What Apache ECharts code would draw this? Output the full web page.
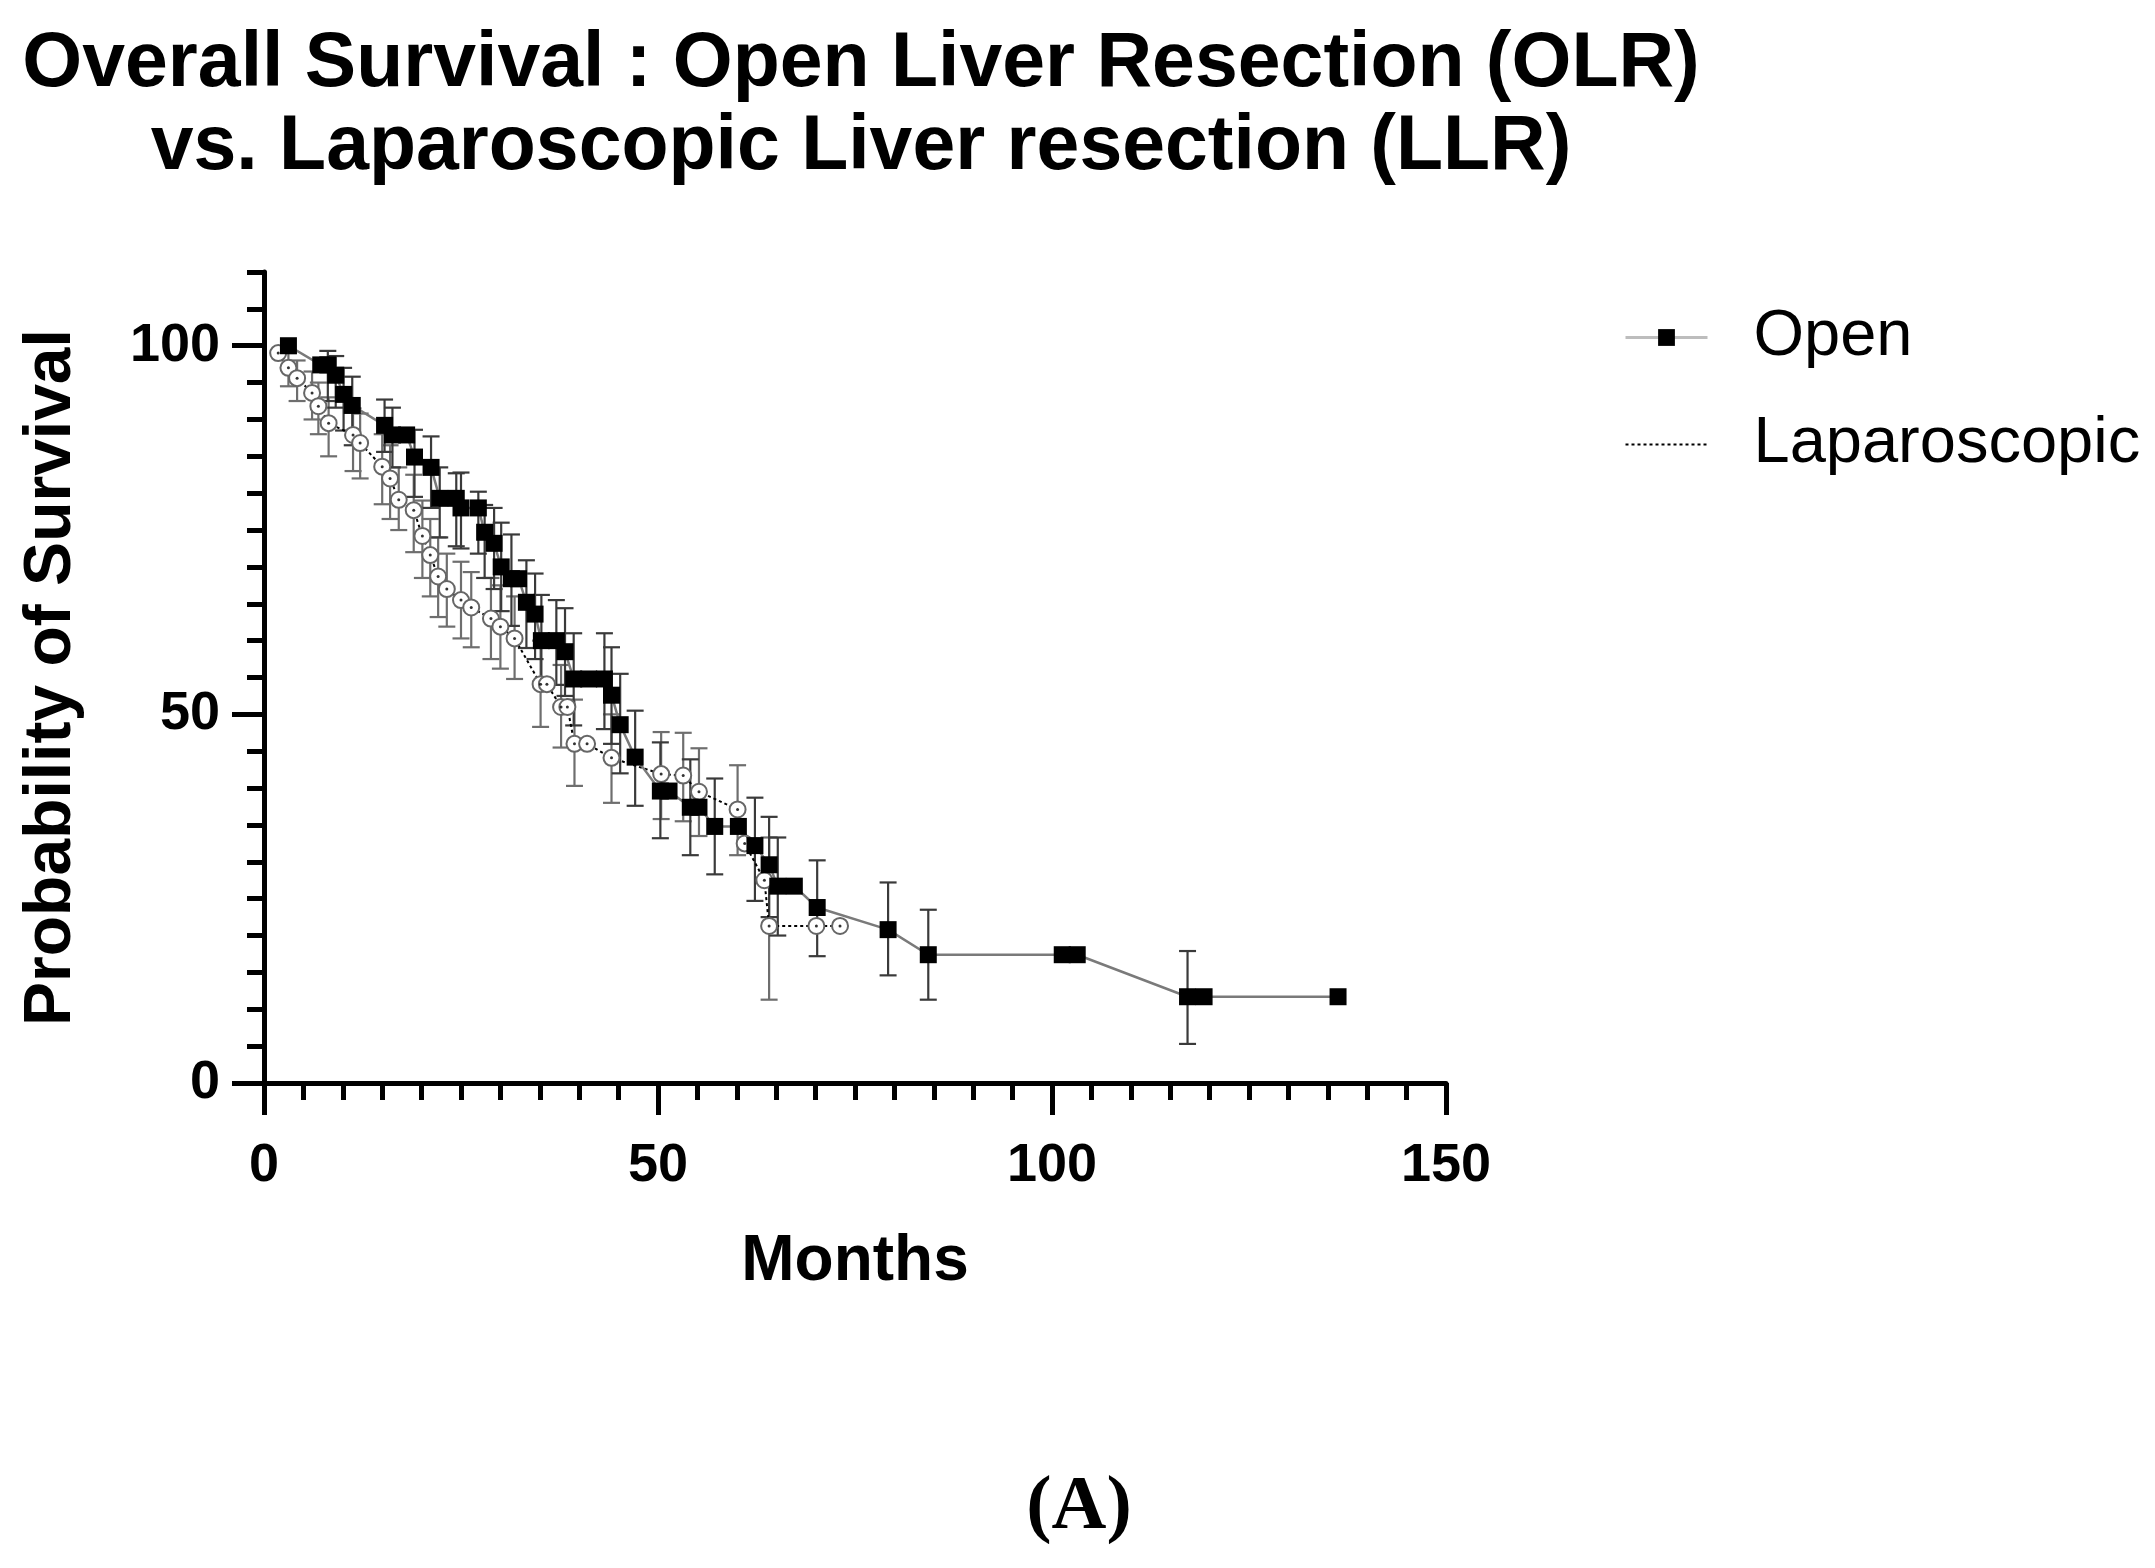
<!DOCTYPE html>
<html><head><meta charset="utf-8">
<script src="https://cdn.jsdelivr.net/npm/echarts@6/dist/echarts.min.js"></script>
<style>html,body{margin:0;padding:0;background:#fff}#c{width:2155px;height:1568px}</style>
</head><body><div id="c"></div>
<script>
// ---- Data ----
const openMonths = [3.1, 7.2, 8.1, 9.1, 10.1, 11.2, 15.3, 16.3, 18.1, 19.1, 21.2, 22.3, 24.4, 25.0, 27.2, 28.0, 29.2, 30.1, 31.4, 32.3, 33.3, 34.4, 35.2, 37.1, 38.2, 39.3, 41.2, 43.2, 44.1, 45.2, 47.1, 50.3, 51.4, 54.1, 55.2, 57.2, 60.2, 62.3, 64.1, 65.2, 67.3, 70.2, 79.2, 84.3, 101.3, 103.2, 117.2, 119.3, 136.3];
const openSurv   = [100, 97.4, 97.4, 96.0, 93.4, 91.9, 89.2, 87.9, 87.9, 84.9, 83.5, 79.3, 79.3, 78.0, 78.0, 74.7, 73.2, 70.0, 68.4, 68.4, 65.2, 63.6, 60.0, 60.0, 58.5, 54.8, 54.8, 54.8, 52.6, 48.6, 44.2, 39.6, 39.6, 37.4, 37.4, 34.8, 34.8, 32.2, 29.6, 26.7, 26.7, 23.8, 20.8, 17.4, 17.4, 17.4, 11.7, 11.7, 11.7];
const openLo     = [null, null, 92.5, 91.6, 88.5, 86.5, 85.6, 83.5, null, 79.5, 78.0, 74.0, 72.8, 72.5, 71.8, 68.5, 67.0, 64.0, 62.0, null, 59.0, 57.5, 54.5, 54.0, 52.5, 48.5, null, 48.0, 46.0, 42.0, 37.6, 33.2, null, 30.9, null, 28.3, null, 24.7, 22.5, 20.0, null, 17.2, 14.6, 11.3, null, null, 5.3, null, null];
const openHi     = [null, null, 99.3, 98.6, 97.0, 95.8, 92.7, 91.6, null, 88.6, 87.7, 83.5, 82.7, 82.8, 80.2, 78.4, 78.0, 76.0, 74.4, null, 70.9, 69.1, 66.2, 65.5, 64.4, 61.0, null, 61.0, 59.1, 55.5, 50.5, 46.2, null, 43.9, null, 41.3, null, 38.7, 36.1, 33.3, null, 30.2, 27.2, 23.5, null, null, 17.9, null, null];

const lapMonths = [1.8, 3.1, 4.2, 6.1, 6.9, 8.2, 11.3, 12.2, 15.0, 16.0, 17.1, 19.0, 20.1, 21.1, 22.1, 23.2, 25.0, 26.3, 28.8, 30.0, 31.8, 35.1, 35.9, 37.7, 38.5, 39.4, 41.0, 44.1, 50.4, 53.2, 55.2, 60.1, 61.0, 63.5, 64.1, 70.1, 73.1];
const lapSurv   = [99.0, 97.0, 95.6, 93.6, 91.8, 89.5, 87.9, 86.8, 83.6, 82.0, 79.1, 77.7, 74.2, 71.6, 68.7, 67.0, 65.5, 64.5, 63.0, 61.9, 60.3, 54.1, 54.1, 51.0, 51.0, 46.0, 46.0, 44.1, 41.9, 41.7, 39.5, 37.1, 32.5, 27.5, 21.3, 21.3, 21.3];
const lapLo     = [null, 94.5, 92.5, 90.0, 88.0, 85.0, 83.0, 82.0, 78.5, 76.5, 75.0, 72.0, 68.5, 66.0, 63.2, 61.9, 60.3, 59.1, 57.5, 56.2, 54.8, 48.3, null, 45.5, null, 40.3, null, 38.0, 35.8, 35.5, 33.5, 30.9, null, null, 11.3, null, null];
const lapHi     = [null, 99.0, 98.0, 96.5, 95.0, 93.0, 91.5, 90.8, 88.0, 86.5, 83.5, 82.5, 79.0, 76.5, 74.0, 71.8, 70.7, 69.3, 68.5, 67.5, 66.0, 60.0, null, 56.7, null, 52.0, null, 50.0, 47.6, 47.5, 45.4, 43.1, null, null, 33.3, null, null];

const xTickLabels = [0, 50, 100, 150];
const yTickLabels = [0, 50, 100];
const seriesNames = ['Open', 'Laparoscopic'];
const titleText = 'Overall Survival : Open Liver Resection (OLR)\nvs. Laparoscopic Liver resection (LLR)';
const xName = 'Months';
const yName = 'Probability of Survival';
const panelLabel = '(A)';

// ---- Build ----
const pts = (xs, ys) => xs.map((x, i) => [x, ys[i]]);
const bars = (xs, lo, hi) => xs.map((x, i) => [x, lo[i], hi[i]]).filter(d => d[1] != null && d[2] != null);

function errRender(color) {
  return function (params, api) {
    const x = api.value(0), lo = api.value(1), hi = api.value(2);
    const a = api.coord([x, lo]), b = api.coord([x, hi]);
    const w = 8.5;
    const style = { stroke: color, lineWidth: 2.2 };
    return { type: 'group', children: [
      { type: 'line', shape: { x1: a[0], y1: a[1], x2: b[0], y2: b[1] }, style },
      { type: 'line', shape: { x1: a[0] - w, y1: a[1], x2: a[0] + w, y2: a[1] }, style },
      { type: 'line', shape: { x1: b[0] - w, y1: b[1], x2: b[0] + w, y2: b[1] }, style }
    ]};
  };
}

const FONT = '"Liberation Sans", Arial, sans-serif';
const axisCommon = {
  axisLine: { show: true, lineStyle: { color: '#000', width: 5 } },
  splitLine: { show: false }
};

const chart = echarts.init(document.getElementById('c'), null, { renderer: 'canvas' });
chart.setOption({
  backgroundColor: '#fff',
  animation: false,
  title: {
    text: titleText,
    left: 856, top: 18, textAlign: 'center',
    textStyle: { fontFamily: FONT, fontWeight: 'bold', fontSize: 77, lineHeight: 83, color: '#000' }
  },
  legend: {
    orient: 'vertical', left: 1619, top: 300,
    itemWidth: 82, itemHeight: 21, itemGap: 42,
    textStyle: { fontFamily: FONT, fontSize: 65, color: '#000', lineHeight: 65, padding: [0, 0, 0, 41] },
    data: [
      { name: seriesNames[0], lineStyle: { color: '#bdbdbd', width: 3 }, itemStyle: { color: '#000' } },
      { name: seriesNames[1], lineStyle: { color: '#000', width: 2, type: [3, 3] }, itemStyle: { opacity: 0 } }
    ]
  },
  grid: { left: 264, top: 272, width: 1182, height: 811, containLabel: false },
  xAxis: [
    Object.assign({}, axisCommon, {
      type: 'value', min: 0, max: 150, interval: 5,
      axisTick: { show: true, length: 17, lineStyle: { color: '#000', width: 5 } },
      axisLabel: { customValues: xTickLabels, margin: 56, fontFamily: FONT, fontWeight: 'bold', fontSize: 54, color: '#000' },
      name: xName, nameLocation: 'middle', nameGap: 147,
      nameTextStyle: { fontFamily: FONT, fontWeight: 'bold', fontSize: 64, color: '#000' }
    }),
    {
      type: 'value', min: 0, max: 150, position: 'bottom', gridIndex: 0,
      axisLine: { show: false }, splitLine: { show: false }, axisLabel: { show: false },
      axisTick: { show: true, length: 32, customValues: xTickLabels, lineStyle: { color: '#000', width: 5 } }
    }
  ],
  yAxis: [
    Object.assign({}, axisCommon, {
      type: 'value', min: 0, max: 110, interval: 5,
      axisTick: { show: true, length: 17, lineStyle: { color: '#000', width: 5 } },
      axisLabel: { customValues: yTickLabels, margin: 44, fontFamily: FONT, fontWeight: 'bold', fontSize: 54, color: '#000' },
      name: yName, nameLocation: 'middle', nameGap: 179, nameRotate: 90,
      nameTextStyle: { fontFamily: FONT, fontWeight: 'bold', fontSize: 66, color: '#000' }
    }),
    {
      type: 'value', min: 0, max: 110, position: 'left', gridIndex: 0,
      axisLine: { show: false }, splitLine: { show: false }, axisLabel: { show: false },
      axisTick: { show: true, length: 32, customValues: yTickLabels, lineStyle: { color: '#000', width: 5 } }
    }
  ],
  series: [
    {
      type: 'custom', name: 'lapErr', renderItem: errRender('#6e6e6e'),
      data: bars(lapMonths, lapLo, lapHi), encode: { x: 0, y: [1, 2] }, z: 1, silent: true
    },
    {
      type: 'custom', name: 'openErr', renderItem: errRender('#3a3a3a'),
      data: bars(openMonths, openLo, openHi), encode: { x: 0, y: [1, 2] }, z: 1, silent: true
    },
    {
      type: 'line', name: seriesNames[1], data: pts(lapMonths, lapSurv), z: 3,
      symbol: 'circle', symbolSize: 16, showAllSymbol: true,
      lineStyle: { color: '#000', width: 2, type: [3, 3] },
      itemStyle: { color: '#fff', borderColor: '#666', borderWidth: 2 }
    },
    {
      type: 'scatter', name: 'lapDot', data: pts(lapMonths, lapSurv), z: 4,
      symbol: 'circle', symbolSize: 3, itemStyle: { color: '#000' }, silent: true
    },
    {
      type: 'line', name: seriesNames[0], data: pts(openMonths, openSurv), z: 5,
      symbol: 'rect', symbolSize: 17, showAllSymbol: true,
      lineStyle: { color: '#7a7a7a', width: 2.5 },
      itemStyle: { color: '#000' }
    }
  ],
  graphic: [
    {
      type: 'text', x: 1079, y: 1508,
      style: { text: panelLabel, align: 'center', verticalAlign: 'middle', fontFamily: '"Liberation Serif", "Times New Roman", serif', fontWeight: 'bold', fontSize: 76, fill: '#000' }
    }
  ]
});
</script>
</body></html>
